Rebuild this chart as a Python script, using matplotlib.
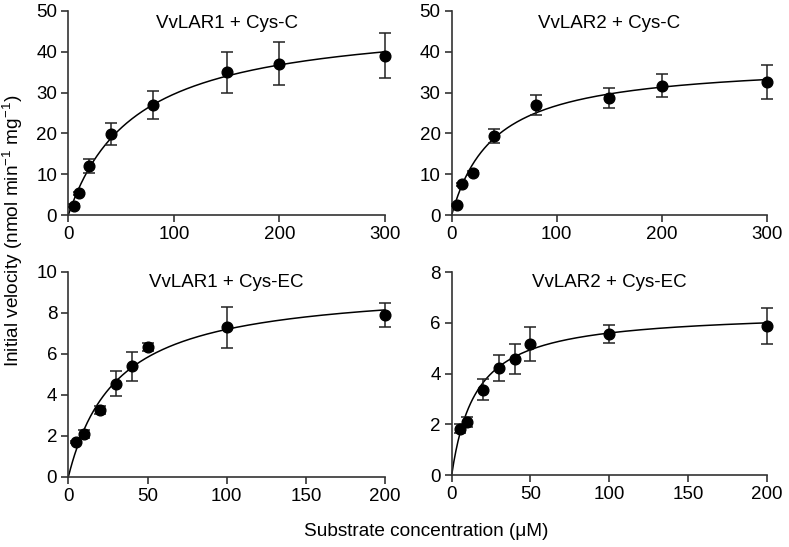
import matplotlib
matplotlib.use("Agg")
import matplotlib.pyplot as plt
import numpy as np

plt.rcParams['font.family'] = ['Liberation Sans', 'DejaVu Sans']
plt.rcParams['mathtext.fontset'] = 'custom'
plt.rcParams['mathtext.rm'] = 'Liberation Sans'
plt.rcParams['mathtext.it'] = 'Liberation Sans'

# substrate concentrations (uM)
conc_c = [5, 10, 20, 40, 80, 150, 200, 300]
conc_ec = [5, 10, 20, 30, 40, 50, 100, 200]

# mean initial velocity and error
lar1_c = [2.3, 5.3, 12.0, 19.8, 27.0, 35.0, 37.1, 39.0]
lar1_c_err = [0.3, 0.4, 1.7, 2.7, 3.5, 5.0, 5.2, 5.5]
lar2_c = [2.5, 7.5, 10.3, 19.4, 27.0, 28.7, 31.7, 32.6]
lar2_c_err = [0.3, 0.4, 0.4, 1.8, 2.5, 2.5, 2.8, 4.1]
lar1_ec = [1.7, 2.1, 3.25, 4.55, 5.4, 6.35, 7.3, 7.9]
lar1_ec_err = [0.05, 0.2, 0.2, 0.6, 0.7, 0.2, 1.0, 0.6]
lar2_ec = [1.83, 2.1, 3.37, 4.22, 4.57, 5.18, 5.55, 5.87]
lar2_ec_err = [0.17, 0.2, 0.42, 0.53, 0.6, 0.67, 0.36, 0.7]

# Michaelis-Menten fit parameters (Vmax, Km)
fits = [(48.5, 63.7), (37.7, 40.6), (9.39, 30.4), (6.46, 15.4)]

titles = ["VvLAR1 + Cys-C", "VvLAR2 + Cys-C", "VvLAR1 + Cys-EC", "VvLAR2 + Cys-EC"]
panels = [
    (conc_c, lar1_c, lar1_c_err, 300, 50, 10, [0, 100, 200, 300]),
    (conc_c, lar2_c, lar2_c_err, 300, 50, 10, [0, 100, 200, 300]),
    (conc_ec, lar1_ec, lar1_ec_err, 200, 10, 2, [0, 50, 100, 150, 200]),
    (conc_ec, lar2_ec, lar2_ec_err, 200, 8, 2, [0, 50, 100, 150, 200]),
]
positions = [
    [0.0866, 0.6069, 0.4014, 0.373],
    [0.5725, 0.6069, 0.3992, 0.373],
    [0.0866, 0.128, 0.4014, 0.3748],
    [0.5725, 0.1316, 0.3992, 0.371],
]
title_y = [0.917, 0.917, 0.927, 0.927]

fig = plt.figure(figsize=(7.89, 5.47), dpi=100)
axcol = '#333333'

for i, (x, y, err, xmax, ymax, ystep, xt) in enumerate(panels):
    ax = fig.add_axes(positions[i])
    vmax, km = fits[i]
    s = np.linspace(0, xmax, 300)
    ax.plot(s, vmax * s / (km + s), color='black', lw=1.1, clip_on=False)
    ax.errorbar(x, y, yerr=err, fmt='o', color='black', ms=7.7, ecolor='#222222',
                elinewidth=1.1, capsize=4.2, capthick=1.1, clip_on=False, zorder=3)
    ax.set_xlim(0, xmax)
    ax.set_ylim(0, ymax)
    ax.set_xticks(xt)
    ax.set_yticks(np.arange(0, ymax + 0.01, ystep))
    for side in ['top', 'right']:
        ax.spines[side].set_visible(False)
    for side in ['left', 'bottom']:
        ax.spines[side].set_color(axcol)
        ax.spines[side].set_linewidth(1.2)
    ax.tick_params(direction='out', length=5, width=1.2, color=axcol,
                   labelsize=13.5, pad=3)
    ax.text(0.5, title_y[i], titles[i], transform=ax.transAxes, ha='center',
            va='baseline', fontsize=13.5)

fig.text(0.0165, 0.578, 'Initial velocity (nmol min$^{-1}$ mg$^{-1}$)', rotation=90,
         ha='center', va='center', fontsize=13.7)
fig.text(0.54, 0.028, 'Substrate concentration (\u03bcM)', ha='center', va='center',
         fontsize=13.7)

fig.savefig('out.png', dpi=100)
